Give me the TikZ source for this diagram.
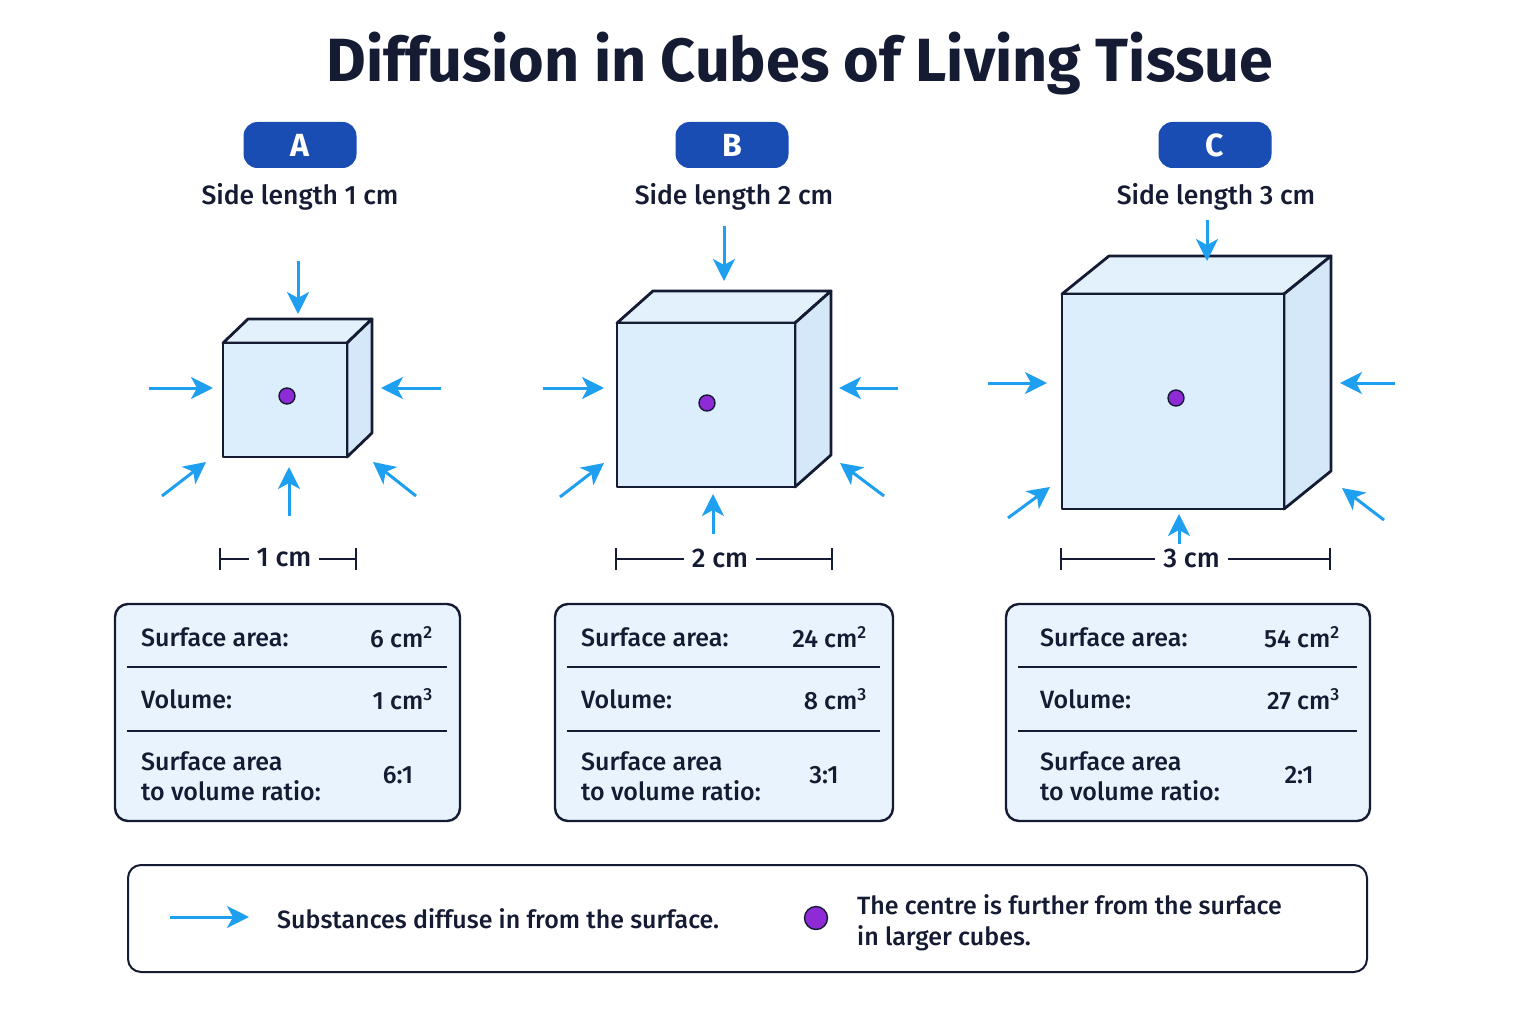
\documentclass[tikz,border=0pt]{standalone}
\usepackage{fontspec}
\setmainfont{Fira Sans}[UprightFont={* Medium}, BoldFont={* Bold}]
\usetikzlibrary{arrows.meta}
\definecolor{navy}{HTML}{141B33}
\definecolor{pill}{HTML}{1A4DB3}
\definecolor{arrowblue}{HTML}{1F9FF0}
\definecolor{dotpurple}{HTML}{8E2AD6}
\definecolor{frontc}{HTML}{DCEDFC}
\definecolor{topc}{HTML}{E3F1FD}
\definecolor{sidec}{HTML}{D4E8FA}
\definecolor{tablec}{HTML}{E8F3FD}
\tikzset{
  cubeline/.style={draw=navy, line width=2.8pt, line join=round},
  diffarrow/.style={draw=arrowblue, line width=3pt, -{Stealth[length=22pt,width=22pt,inset=6pt]}},
  centredot/.style={circle, draw=navy, fill=dotpurple, line width=1.4pt, minimum size=16pt, inner sep=0pt},
  pillbox/.style={rounded corners=14pt, fill=pill, minimum width=113pt, minimum height=46pt, text=white, font=\fontsize{32}{36}\selectfont\bfseries},
  sidelabel/.style={text=navy, font=\fontsize{26.5}{30}\selectfont},
  tabbox/.style={draw=navy, fill=tablec, line width=2.4pt, rounded corners=13pt},
  tabtext/.style={text=navy, font=\fontsize{25}{30.5}\selectfont, inner sep=0pt},
  divider/.style={draw=navy, line width=1.6pt},
  dimline/.style={draw=navy, line width=2pt},
  dimtext/.style={text=navy, font=\fontsize{27}{30}\selectfont, fill=white, inner xsep=8pt},
}
\begin{document}
\begin{tikzpicture}[x=1pt,y=-1pt]
\useasboundingbox[fill=white] (0,0) rectangle (1536,1024);

% title
\node[text=navy, font=\fontsize{61}{68}\selectfont\bfseries] (title) at (800,64) {Diffusion in Cubes of Living Tissue};

% pills and side lengths
\node[pillbox] (pA) at (300,145) {A};
\node[pillbox] (pB) at (732,145) {B};
\node[pillbox] (pC) at (1215,145) {C};
\node[sidelabel] (sA) at (300,197) {Side length 1 cm};
\node[sidelabel] (sB) at (734,197) {Side length 2 cm};
\node[sidelabel] (sC) at (1216,197) {Side length 3 cm};

% cubes
\foreach \x/\y/\w/\h/\dx/\dy in {223/343/124/114/25/24, 617/323/178/164/36/32, 1062/294/222/215/47/38} {
  \filldraw[cubeline, fill=topc] (\x,\y) -- (\x+\dx,\y-\dy) -- (\x+\w+\dx,\y-\dy) -- (\x+\w,\y) -- cycle;
  \filldraw[cubeline, fill=sidec] (\x+\w,\y) -- (\x+\w+\dx,\y-\dy) -- (\x+\w+\dx,\y+\h-\dy) -- (\x+\w,\y+\h) -- cycle;
  \filldraw[cubeline, fill=frontc] (\x,\y) rectangle (\x+\w,\y+\h);
}

% centre dots
\node[centredot] (dA) at (287,396) {};
\node[centredot] (dB) at (707,403) {};
\node[centredot] (dC) at (1176,398) {};

% diffusion arrows
\foreach \a/\b/\c/\d in {
  298/261/298/314, 149/388/213/388, 441/388/381/388, 289/516/289/467, 162/496/206/462, 416/496/373/462,
  724/226/724/281, 543/388/604/388, 898/388/839/388, 713/534/713/494, 560/497/604/463, 884/496/840/463,
  1207/220/1207/261, 988/383/1047/383, 1395/383/1340/383, 1179/544/1179/514, 1008/518/1050/487, 1384/520/1342/488}
{
  \draw[diffarrow] (\a,\b) -- (\c,\d);
}

% dimension lines
\foreach \l/\r/\t in {220/356/1 cm, 616/832/2 cm, 1061/1330/3 cm} {
  \draw[dimline] (\l,559) -- (\r,559);
  \draw[dimline] (\l,548) -- (\l,570);
  \draw[dimline] (\r,548) -- (\r,570);
  \node[dimtext] at ({(\l+\r)/2-4},558) {\t};
}

% tables
\foreach \L/\R/\tx/\vx/\rx/\sa/\vo/\ra in {
  115/460/141/433/398/6/1/6:1,
  555/893/581/867/824/24/8/3:1,
  1006/1370/1040/1340/1299/54/27/2:1} {
  \draw[tabbox] (\L,604) rectangle (\R,821);
  \draw[divider] (\L+12,667) -- (\R-13,667);
  \draw[divider] (\L+12,731) -- (\R-13,731);
  \node[tabtext, anchor=west] at (\tx,637) {Surface area:};
  \node[tabtext, anchor=east] at (\vx,637) {\sa{} cm\textsuperscript{2}};
  \node[tabtext, anchor=west] at (\tx,699) {Volume:};
  \node[tabtext, anchor=east] at (\vx,699) {\vo{} cm\textsuperscript{3}};
  \node[tabtext, anchor=west, align=left] at (\tx,776) {Surface area\\to volume ratio:};
  \node[tabtext] at (\rx,775) {\ra};
}

% legend
\draw[draw=navy, fill=white, line width=2pt, rounded corners=13pt] (128,865) rectangle (1367,972);
\coordinate (lgA) at (170,917);
\coordinate (lgB) at (249,917);
\draw[diffarrow] (lgA) -- (lgB);
\node[tabtext, anchor=west] (lgt1) at (277,919) {Substances diffuse in from the surface.};
\node[centredot, minimum size=23pt] (lgdot) at (816,918) {};
\node[tabtext, anchor=west, align=left] (lgt2) at (857,923) {The centre is further from the surface\\in larger cubes.};
\end{tikzpicture}
\end{document}
